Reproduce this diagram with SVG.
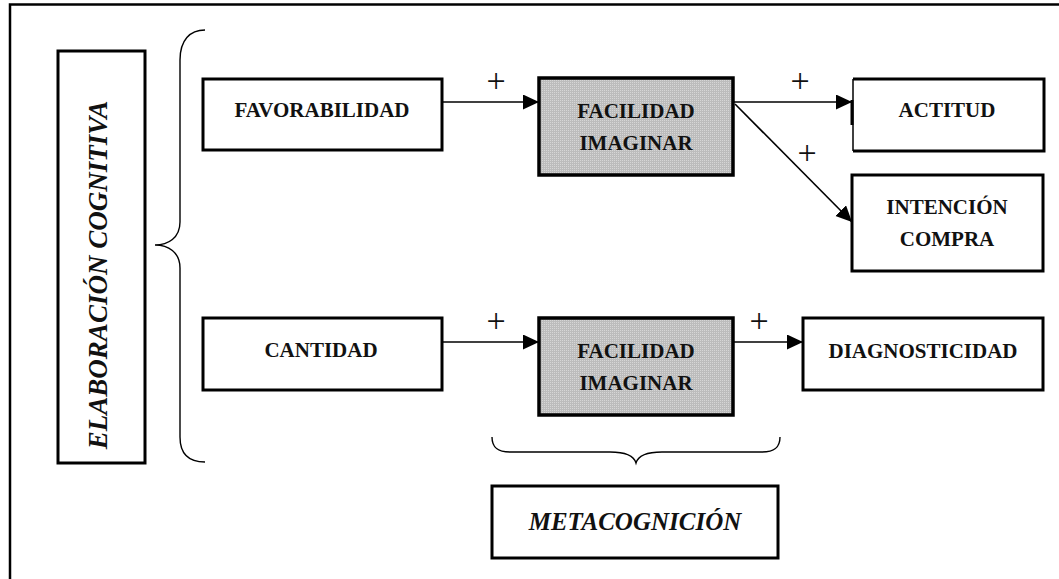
<svg xmlns="http://www.w3.org/2000/svg" width="1059" height="579" viewBox="0 0 1059 579">
  <defs>
    <style>
      .box { fill: #ffffff; stroke: #000000; stroke-width: 3; }
      .shaded { fill: url(#dots); stroke: #000000; stroke-width: 3.5; }
      .lbl { font-family: "Liberation Serif", "Times New Roman", serif; font-weight: bold; font-size: 21px; fill: #111111; text-anchor: middle; }
      .big { font-family: "Liberation Serif", "Times New Roman", serif; font-weight: bold; font-style: italic; fill: #111111; text-anchor: middle; }
      .sign { font-family: "Liberation Serif", "Times New Roman", serif; font-size: 34px; fill: #111111; text-anchor: middle; }
      .wire { stroke: #000000; stroke-width: 1.6; fill: none; }
      .brace { stroke: #000000; stroke-width: 1.4; fill: none; }
      .frame { stroke: #000000; stroke-width: 2.5; fill: none; }
    </style>
    <pattern id="dots" width="2" height="2" patternUnits="userSpaceOnUse">
      <rect width="2" height="2" fill="#bcbcbc"/>
      <rect width="1" height="1" fill="#d6d6d6"/>
    </pattern>
    <marker id="arrow" markerUnits="userSpaceOnUse" markerWidth="17" markerHeight="16" refX="16" refY="7.5" orient="auto">
      <path d="M0,0 L16,7.5 L0,15 Z" fill="#000000"/>
    </marker>
  </defs>

  <!-- page frame -->
  <path class="frame" d="M10,579 L10,4.5 L1059,4.5"/>

  <!-- left grouping block -->
  <g id="elaboracion">
    <rect class="box" x="58" y="51" width="87" height="412"/>
    <text class="big" font-size="27" transform="translate(107,275) rotate(-90)">ELABORACIÓN COGNITIVA</text>
  </g>

  <!-- braces -->
  <g id="braces">
    <path class="brace" d="M205,30 C190,30 180,40 180,60 L180,222 C180,238 168,245 155,245 C168,245 180,252 180,268 L180,437 C180,455 190,462 205,462"/>
    <path class="brace" d="M492,437 C492,447 497,452 510,452 L610,452 C626,452 634,456 636,463 C638,456 646,452 662,452 L762,452 C775,452 780,447 780,437"/>
  </g>

  <!-- upper row -->
  <g id="favorabilidad">
    <rect class="box" x="203" y="79" width="239" height="71"/>
    <text class="lbl" x="322" y="117">FAVORABILIDAD</text>
  </g>
  <g id="facilidad1">
    <rect class="shaded" x="539" y="78" width="194" height="97"/>
    <text class="lbl" x="636" y="118">FACILIDAD</text>
    <text class="lbl" x="636" y="150">IMAGINAR</text>
  </g>
  <g id="actitud">
    <path d="M853,79 L1044,79 L1044,151 L853,151" class="box" fill="none"/>
    <line x1="853" y1="79" x2="853" y2="151" stroke="#000" stroke-width="1.5"/>
    <line x1="852" y1="100" x2="852" y2="125" stroke="#000" stroke-width="3"/>
    <text class="lbl" x="947" y="117">ACTITUD</text>
  </g>
  <g id="intencion">
    <rect class="box" x="852" y="175" width="191" height="96"/>
    <text class="lbl" x="947" y="214">INTENCIÓN</text>
    <text class="lbl" x="947" y="246">COMPRA</text>
  </g>

  <!-- lower row -->
  <g id="cantidad">
    <rect class="box" x="203" y="318" width="239" height="72"/>
    <text class="lbl" x="321" y="357">CANTIDAD</text>
  </g>
  <g id="facilidad2">
    <rect class="shaded" x="539" y="318" width="194" height="97"/>
    <text class="lbl" x="636" y="358">FACILIDAD</text>
    <text class="lbl" x="636" y="390">IMAGINAR</text>
  </g>
  <g id="diagnosticidad">
    <rect class="box" x="803" y="318" width="240" height="72"/>
    <text class="lbl" x="923" y="358">DIAGNOSTICIDAD</text>
  </g>

  <!-- bottom grouping block -->
  <g id="metacognicion">
    <rect class="box" x="492" y="486" width="286" height="72"/>
    <text class="big" font-size="25" x="635" y="530">METACOGNICIÓN</text>
  </g>

  <!-- connectors -->
  <g id="connectors">
    <line class="wire" x1="442" y1="102" x2="539" y2="102" marker-end="url(#arrow)"/>
    <line class="wire" x1="733" y1="102" x2="852" y2="102" marker-end="url(#arrow)"/>
    <line class="wire" x1="735" y1="104" x2="852" y2="222" marker-end="url(#arrow)"/>
    <line class="wire" x1="442" y1="342" x2="539" y2="342" marker-end="url(#arrow)"/>
    <line class="wire" x1="733" y1="342" x2="803" y2="342" marker-end="url(#arrow)"/>
    <text class="sign" x="496" y="92">+</text>
    <text class="sign" x="800" y="92">+</text>
    <text class="sign" x="807" y="164">+</text>
    <text class="sign" x="496" y="332">+</text>
    <text class="sign" x="759" y="332">+</text>
  </g>
</svg>
